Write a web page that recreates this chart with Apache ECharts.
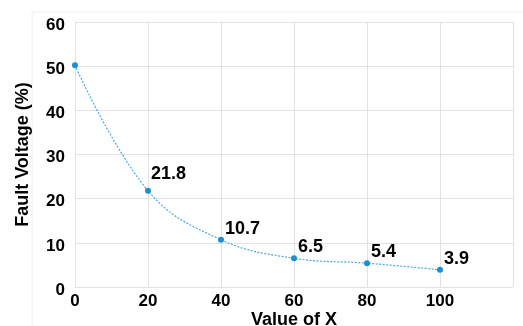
<!DOCTYPE html>
<html><head><meta charset="utf-8">
<script src="https://cdn.jsdelivr.net/npm/echarts@6/dist/echarts.min.js"></script>
<style>html,body{margin:0;padding:0;background:#fff}#c{width:523px;height:326px}</style>
</head><body><div id="c"></div>
<script>
const xValues = [0, 20, 40, 60, 80, 100];
const faultVoltage = [50.2, 21.8, 10.7, 6.5, 5.4, 3.9];
const showLabel = [false, true, true, true, true, true];
const xTicks = [0, 20, 40, 60, 80, 100];
const yTicks = [0, 10, 20, 30, 40, 50, 60];

const chart = echarts.init(document.getElementById('c'), null, {renderer: 'canvas'});
const font = 'Liberation Sans, Arial, sans-serif';
const data = xValues.map((x, i) => ({
  value: [x, faultVoltage[i]],
  label: {show: showLabel[i], offset: i === 1 ? [0, -17] : [1, -11]}
}));
chart.setOption({
  animation: false,
  graphic: [{type: 'rect', shape: {x: 32, y: 12, width: 520, height: 330}, style: {fill: 'none', stroke: '#f0f0f0', lineWidth: 1}, silent: true}],
  grid: {left: 75, right: 10, top: 22, bottom: 39, containLabel: false, outerBoundsMode: 'none'},
  xAxis: {
    type: 'value', min: 0, max: 120, interval: 20,
    name: 'Value of X', nameLocation: 'middle', nameGap: 24, nameMoveOverlap: false,
    nameTextStyle: {fontFamily: font, fontWeight: 'bold', fontSize: 18, color: '#000'},
    axisLine: {show: true, lineStyle: {color: '#e2e2e2'}},
    axisTick: {show: false},
    axisLabel: {fontFamily: font, fontWeight: 'bold', fontSize: 17, color: '#000', margin: 6,
      formatter: v => xTicks.indexOf(v) >= 0 ? String(v) : ''},
    splitLine: {show: true, lineStyle: {color: '#e2e2e2'}}
  },
  yAxis: {
    type: 'value', min: 0, max: 60, interval: 10,
    name: 'Fault Voltage (%)', nameLocation: 'middle', nameGap: 43, nameMoveOverlap: false,
    nameTextStyle: {fontFamily: font, fontWeight: 'bold', fontSize: 18, color: '#000'},
    axisLine: {show: true, lineStyle: {color: '#e2e2e2'}},
    axisTick: {show: false},
    axisLabel: {fontFamily: font, fontWeight: 'bold', fontSize: 17, color: '#000', margin: 10,
      formatter: v => yTicks.indexOf(v) >= 0 ? '{a|' + v + '}' : '',
      rich: {a: {fontFamily: font, fontWeight: 'bold', fontSize: 17, color: '#000', lineHeight: 17, padding: [6, 0, 0, 0]}}},
    splitLine: {show: true, lineStyle: {color: '#e2e2e2'}}
  },
  series: [{
    type: 'line', smooth: 0.4, data: data,
    symbol: 'circle', symbolSize: 6,
    itemStyle: {color: '#1b8ed6'},
    lineStyle: {color: '#4aa9e6', width: 1.2, type: [2, 1.5]},
    label: {position: 'right', distance: 0, fontFamily: font, fontWeight: 'bold', fontSize: 18, color: '#000',
      formatter: p => p.value[1].toFixed(1)}
  }]
});
</script></body></html>
